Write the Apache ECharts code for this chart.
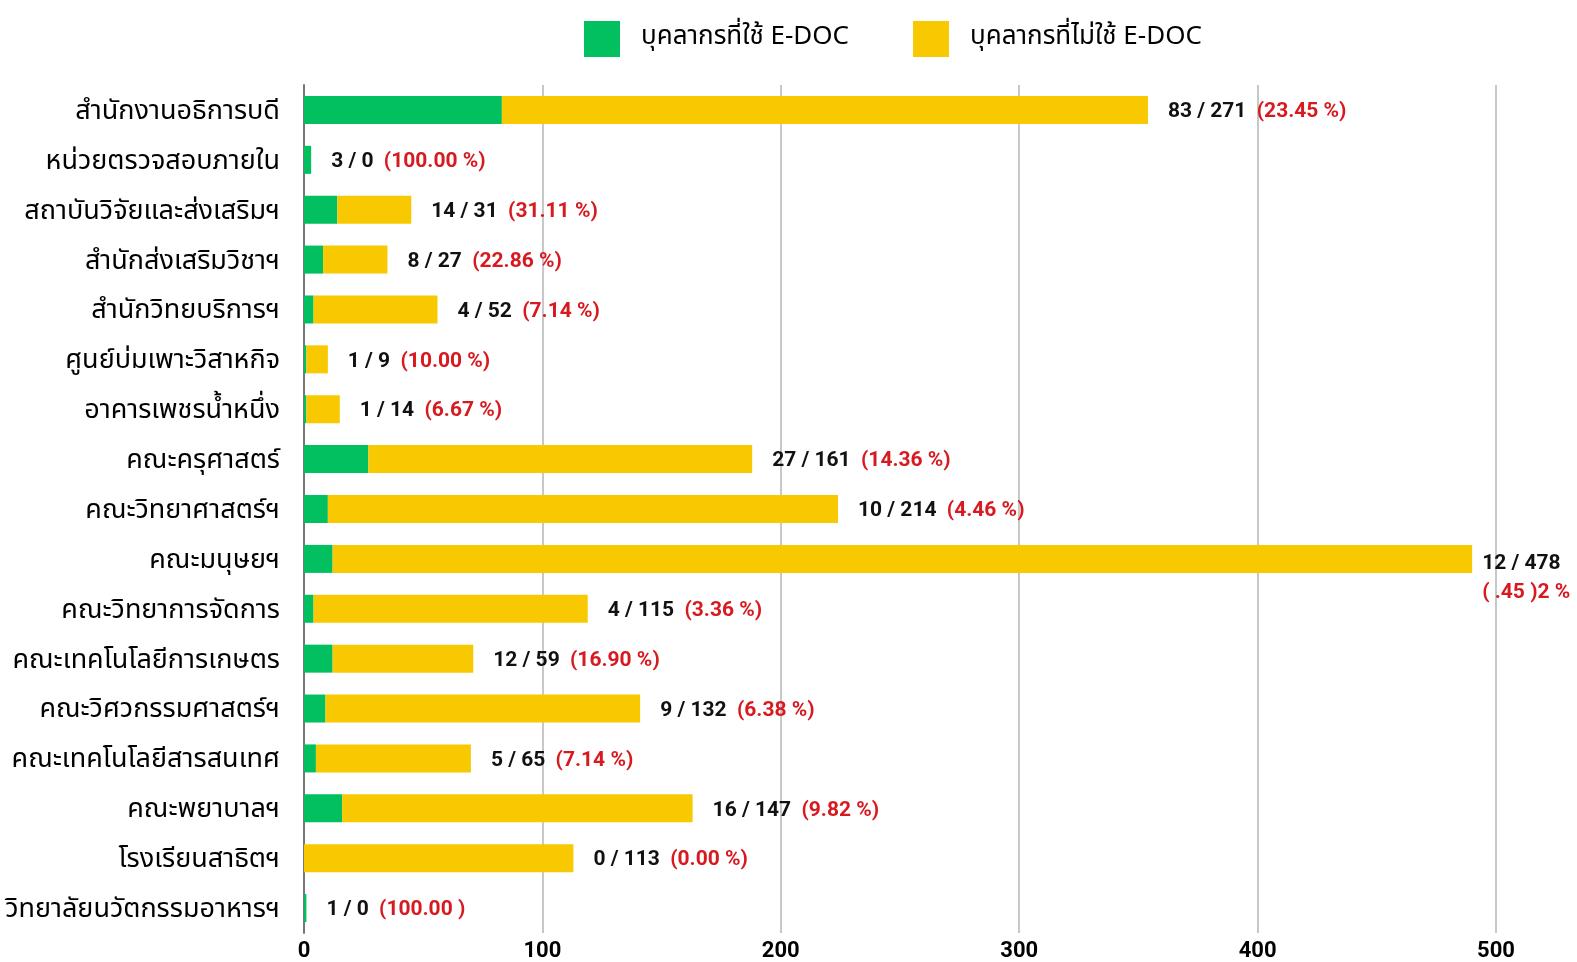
<!DOCTYPE html>
<html>
<head>
<meta charset="utf-8">
<script src="https://cdn.jsdelivr.net/npm/echarts@6/dist/echarts.min.js"></script>
<style>
  html, body { margin: 0; padding: 0; background: #fff; }
  #chart { width: 1577px; height: 962px; }
</style>
</head>
<body>
<div id="chart"></div>
<script>
  // หน่วยงาน (บนลงล่าง)
  const units = [
    'สำนักงานอธิการบดี', 'หน่วยตรวจสอบภายใน', 'สถาบันวิจัยและส่งเสริมฯ', 'สำนักส่งเสริมวิชาฯ',
    'สำนักวิทยบริการฯ', 'ศูนย์บ่มเพาะวิสาหกิจ', 'อาคารเพชรน้ำหนึ่ง', 'คณะครุศาสตร์',
    'คณะวิทยาศาสตร์ฯ', 'คณะมนุษยฯ', 'คณะวิทยาการจัดการ', 'คณะเทคโนโลยีการเกษตร',
    'คณะวิศวกรรมศาสตร์ฯ', 'คณะเทคโนโลยีสารสนเทศ', 'คณะพยาบาลฯ', 'โรงเรียนสาธิตฯ',
    'วิทยาลัยนวัตกรรมอาหารฯ'
  ]
  // บุคลากรที่ใช้ E-DOC
  const usedDoc = [83, 3, 14, 8, 4, 1, 1, 27, 10, 12, 4, 12, 9, 5, 16, 0, 1]
  // บุคลากรที่ไม่ใช้ E-DOC
  const notUsedDoc = [271, 0, 31, 27, 52, 9, 14, 161, 214, 478, 115, 59, 132, 65, 147, 113, 0]
  // ข้อความเปอร์เซ็นต์ตามภาพ
  const percentText = [
    '(23.45 %)', '(100.00 %)', '(31.11 %)', '(22.86 %)', '(7.14 %)', '(10.00 %)', '(6.67 %)',
    '(14.36 %)', '(4.46 %)', '( .45 )2 %', '(3.36 %)', '(16.90 %)', '(6.38 %)', '(7.14 %)',
    '(9.82 %)', '(0.00 %)', '(100.00 )'
  ]
  const xTicks = [0, 100, 200, 300, 400, 500]

  const thaiFont = '"Noto Sans Thai", "Noto Sans", sans-serif'
  const chart = echarts.init(document.getElementById('chart'))

  chart.setOption({
    animation: false,
    legend: {
      top: 16,
      left: 579,
      itemWidth: 36,
      itemHeight: 36,
      itemGap: 64,
      icon: 'rect',
      textStyle: { fontSize: 26, color: '#000', fontFamily: thaiFont, padding: [0, 0, 0, 16] },
      data: ['บุคลากรที่ใช้ E-DOC', 'บุคลากรที่ไม่ใช้ E-DOC']
    },
    grid: { left: 304, right: 81, top: 85, bottom: 25 },
    xAxis: {
      type: 'value',
      min: xTicks[0],
      max: xTicks[xTicks.length - 1],
      interval: 100,
      axisLine: { show: false },
      axisTick: { show: false },
      splitLine: { lineStyle: { color: '#c8c8c8', width: 2 } },
      axisLabel: { fontSize: 22, fontWeight: 'bold', color: '#000', margin: 7, fontFamily: 'Roboto, sans-serif' }
    },
    yAxis: {
      type: 'category',
      inverse: true,
      data: units,
      axisLine: { show: true, lineStyle: { color: '#777', width: 2 } },
      axisTick: { show: false },
      axisLabel: {
        margin: 24,
        formatter: (v) => '{c|' + v + '}',
        rich: {
          c: { fontSize: 27, color: '#000', fontFamily: thaiFont, padding: [7, 0, 0, 0] }
        }
      }
    },
    series: [
      {
        name: 'บุคลากรที่ใช้ E-DOC',
        type: 'bar',
        stack: 'all',
        barWidth: 28,
        itemStyle: { color: '#02bf60' },
        data: usedDoc
      },
      {
        name: 'บุคลากรที่ไม่ใช้ E-DOC',
        type: 'bar',
        stack: 'all',
        barWidth: 28,
        itemStyle: { color: '#f8c800' },
        data: notUsedDoc,
        label: {
          show: true,
          position: 'right',
          distance: 20,
          offset: [0, 2],
          formatter: (p) => {
            const i = p.dataIndex
            const sep = i === 9 ? '\n' : ' '
            return '{n|' + usedDoc[i] + ' / ' + notUsedDoc[i] + '}' + sep + '{p|' + percentText[i] + '}'
          },
          rich: {
            n: { fontSize: 21, fontWeight: 'bold', color: '#111', fontFamily: 'Roboto, sans-serif', lineHeight: 29, padding: [0, 7, 0, 0] },
            p: { fontSize: 21, fontWeight: 'bold', color: '#d71920', fontFamily: 'Roboto, sans-serif', lineHeight: 29 }
          }
        }
      }
    ]
  })

  // คณะมนุษยฯ: บรรทัดแรกตรงกลางแท่ง บรรทัดที่สองอยู่ด้านล่าง
  chart.setOption({
    series: [{}, {
      data: notUsedDoc.map((v, i) => i === 9
        ? { value: v, label: { offset: [-4, 19], distance: 14 } }
        : v)
    }]
  })
</script>
</body>
</html>
